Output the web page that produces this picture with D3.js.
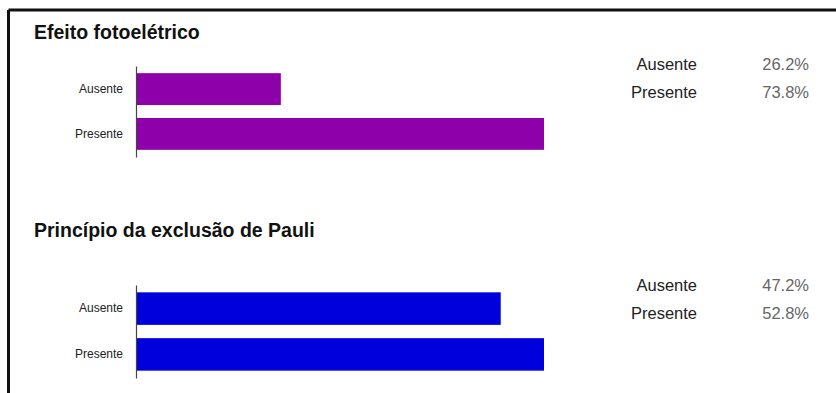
<!DOCTYPE html>
<html>
<head>
<meta charset="utf-8">
<script src="https://cdn.jsdelivr.net/npm/d3@7"></script>
<style>
  html, body { margin: 0; padding: 0; background: #fff; }
  svg { display: block; font-family: "Liberation Sans", Arial, Helvetica, sans-serif; }
</style>
</head>
<body>
<svg id="chart" width="836" height="393"></svg>
<script>
// Survey answers, one panel per question
const categories = ["Ausente", "Presente"];
const titles = ["Efeito fotoelétrico", "Princípio da exclusão de Pauli"];
const fotoeletricoValues = [26.2, 73.8];
const pauliValues = [47.2, 52.8];
const barColors = ["#8e00aa", "#0000dc"];

const panels = [
  { title: titles[0], values: fotoeletricoValues, color: barColors[0],
    titleY: 39, axisTop: 66, axisBottom: 157, tableY: 64 },
  { title: titles[1], values: pauliValues, color: barColors[1],
    titleY: 237, axisTop: 285, axisBottom: 378, tableY: 285 }
];

const svg = d3.select("#chart");

// frame: top and left rules
svg.append("line").attr("x1", 8.5).attr("x2", 836).attr("y1", 10).attr("y2", 10)
  .attr("stroke", "#111").attr("stroke-width", 3);
svg.append("line").attr("x1", 8.5).attr("x2", 8.5).attr("y1", 10).attr("y2", 393)
  .attr("stroke", "#111").attr("stroke-width", 3);

const axisX = 136, barMaxX = 544;
const tableLabelX = 697, tableValueX = 809, tableRow = 28;

panels.forEach(p => {
  const g = svg.append("g");

  g.append("text")
    .attr("x", 34).attr("y", p.titleY)
    .attr("font-size", 19.5).attr("font-weight", "bold").attr("fill", "#111")
    .text(p.title);

  const x = d3.scaleLinear().domain([0, d3.max(p.values)]).range([axisX, barMaxX]);
  const y = d3.scaleBand().domain(categories)
    .range([p.axisTop, p.axisBottom]).paddingInner(0.29).paddingOuter(0.16);

  g.selectAll("rect.bar").data(categories).join("rect")
    .attr("class", "bar")
    .attr("x", x(0))
    .attr("y", d => y(d))
    .attr("width", (d, i) => x(p.values[i]) - x(0))
    .attr("height", y.bandwidth())
    .attr("fill", p.color);

  const axis = g.append("g")
    .attr("transform", `translate(${axisX},0)`)
    .call(d3.axisLeft(y).tickSize(0).tickPadding(13));
  axis.select(".domain").attr("stroke", "#444").attr("stroke-width", 1.2);
  axis.selectAll("text").attr("font-size", 12).attr("fill", "#222")
    .attr("font-family", "'Liberation Sans', Arial, sans-serif");

  // summary table on the right
  categories.forEach((c, i) => {
    const ty = p.tableY + i * tableRow;
    g.append("text").attr("x", tableLabelX).attr("y", ty).attr("dy", "0.35em")
      .attr("text-anchor", "end").attr("font-size", 16.5).attr("fill", "#222").text(c);
    g.append("text").attr("x", tableValueX).attr("y", ty).attr("dy", "0.35em")
      .attr("text-anchor", "end").attr("font-size", 16.5).attr("fill", "#666")
      .text(d3.format(".1f")(p.values[i]) + "%");
  });
});
</script>
</body>
</html>
